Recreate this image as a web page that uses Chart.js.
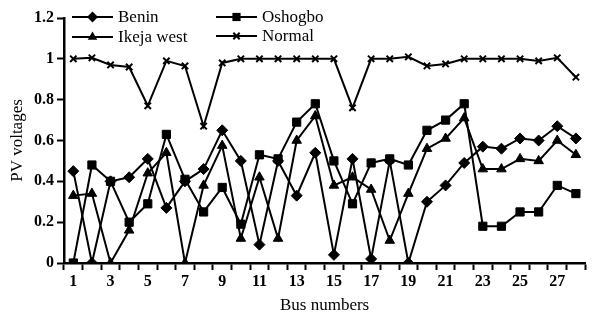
<!DOCTYPE html>
<html>
<head>
<meta charset="utf-8">
<script src="https://cdn.jsdelivr.net/npm/chart.js@4/dist/chart.umd.min.js"></script>
<style>
    html, body { margin: 0; padding: 0; background: #fff; }
    #wrap { width: 592px; height: 320px; }
</style>
</head>
<body>
<div id="wrap"><canvas id="chart" width="592" height="320"></canvas></div>
<script>
// bus numbers on the x axis
let buses = ['1', '2', '3', '4', '5', '6', '7', '8', '9', '10', '11', '12', '13', '14',
    '15', '16', '17', '18', '19', '20', '21', '22', '23', '24', '25', '26', '27', '28'];

// PV voltages
let benin = [0.45, 0.00, 0.40, 0.42, 0.51, 0.27, 0.40, 0.46, 0.65, 0.50, 0.09, 0.50, 0.33, 0.54,
    0.04, 0.51, 0.02, 0.50, 0.00, 0.30, 0.38, 0.49, 0.57, 0.56, 0.61, 0.60, 0.67, 0.61];
let oshogbo = [0.00, 0.48, 0.40, 0.20, 0.29, 0.63, 0.41, 0.25, 0.37, 0.19, 0.53, 0.51, 0.69, 0.78,
    0.50, 0.29, 0.49, 0.51, 0.48, 0.65, 0.70, 0.78, 0.18, 0.18, 0.25, 0.25, 0.38, 0.34];
let ikejaWest = [0.33, 0.34, 0.00, 0.16, 0.44, 0.54, 0.00, 0.38, 0.575, 0.12, 0.42, 0.12, 0.60, 0.72,
    0.38, 0.42, 0.36, 0.11, 0.34, 0.56, 0.61, 0.71, 0.46, 0.46, 0.51, 0.50, 0.60, 0.53];
let normal = [1.00, 1.005, 0.97, 0.96, 0.77, 0.99, 0.965, 0.67, 0.98, 1.00, 1.00, 1.00, 1.00, 1.00,
    1.00, 0.76, 1.00, 1.00, 1.01, 0.965, 0.975, 1.00, 1.00, 1.00, 1.00, 0.99, 1.005, 0.91];

let yTicks = [0, 0.2, 0.4, 0.6, 0.8, 1, 1.2];

const serif = '"Liberation Serif", "Times New Roman", serif';

let series = [
    { label: 'Benin', data: benin, style: 'rectRot', radius: 5.5 },
    { label: 'Oshogbo', data: oshogbo, style: 'rect', radius: 5.8 },
    { label: 'Ikeja west', data: ikejaWest, style: 'triangle', radius: 5.5 },
    { label: 'Normal', data: normal, style: 'crossRot', radius: 4.5 }
];

// legend in two columns, drawn inside the plot like the original figure
let legendSpots = {
    'Benin': [72, 17],
    'Ikeja west': [72, 37],
    'Oshogbo': [216, 17],
    'Normal': [216, 36]
};

function drawMarker(ctx, style, r, x, y) {
    ctx.beginPath();
    switch (style) {
        case 'rectRot':
            ctx.moveTo(x, y - r);
            ctx.lineTo(x + r, y);
            ctx.lineTo(x, y + r);
            ctx.lineTo(x - r, y);
            ctx.closePath();
            ctx.fill();
            break;
        case 'rect':
            let s = r * Math.SQRT1_2;
            ctx.rect(x - s, y - s, 2 * s, 2 * s);
            ctx.fill();
            break;
        case 'triangle':
            ctx.moveTo(x, y - r);
            ctx.lineTo(x + r * 0.87, y + r * 0.5);
            ctx.lineTo(x - r * 0.87, y + r * 0.5);
            ctx.closePath();
            ctx.fill();
            break;
        case 'crossRot':
            let c = r * Math.SQRT1_2;
            ctx.moveTo(x - c, y - c);
            ctx.lineTo(x + c, y + c);
            ctx.moveTo(x + c, y - c);
            ctx.lineTo(x - c, y + c);
            ctx.stroke();
            break;
    }
}

let pairLegend = {
    id: 'pairLegend',
    afterDraw(chart) {
        let ctx = chart.ctx;
        ctx.save();
        ctx.fillStyle = '#000';
        ctx.strokeStyle = '#000';
        ctx.font = '17px ' + serif;
        ctx.textBaseline = 'middle';
        series.forEach(s => {
            let [x, y] = legendSpots[s.label];
            ctx.lineWidth = 2;
            ctx.beginPath();
            ctx.moveTo(x, y);
            ctx.lineTo(x + 41, y);
            ctx.stroke();
            drawMarker(ctx, s.style, s.radius, x + 20.5, y);
            ctx.fillText(s.label, x + 46, y + 1);
        });
        ctx.restore();
    }
};

new Chart(document.getElementById('chart').getContext('2d'), {
    type: 'line',
    data: {
        labels: buses,
        datasets: series.map(s => ({
            label: s.label,
            data: s.data,
            borderColor: '#000',
            backgroundColor: '#000',
            borderWidth: 2,
            pointStyle: s.style,
            pointRadius: s.radius,
            pointBorderWidth: s.style === 'crossRot' ? 2 : 1,
            pointBorderColor: '#000',
            pointBackgroundColor: '#000',
            tension: 0
        }))
    },
    options: {
        responsive: false,
        devicePixelRatio: 1,
        animation: false,
        layout: {
            padding: { top: 18, right: 6, left: 0, bottom: 0 }
        },
        plugins: {
            legend: { display: false },
            tooltip: { enabled: false }
        },
        scales: {
            x: {
                type: 'category',
                offset: true,
                afterFit: scale => { scale.height = 57; },
                grid: {
                    offset: true,
                    drawOnChartArea: false,
                    drawTicks: true,
                    tickLength: 7,
                    tickWidth: 2,
                    tickColor: '#000'
                },
                border: { color: '#000', width: 2.5 },
                ticks: {
                    autoSkip: false,
                    maxRotation: 0,
                    color: '#000',
                    padding: 2,
                    font: { family: serif, size: 16, weight: 'bold' },
                    callback: (value, index) => index % 2 === 0 ? buses[index] : ''
                },
                title: {
                    display: true,
                    text: 'Bus numbers',
                    color: '#000',
                    font: { family: serif, size: 17 },
                    padding: { top: 0, bottom: 4 }
                }
            },
            y: {
                min: 0,
                max: 1.2,
                afterFit: scale => { scale.width = 64; },
                afterBuildTicks: scale => {
                    scale.ticks = yTicks.map(v => ({ value: v }));
                },
                grid: {
                    drawOnChartArea: false,
                    drawTicks: true,
                    tickLength: 7,
                    tickWidth: 2,
                    tickColor: '#000'
                },
                border: { color: '#000', width: 2.5 },
                ticks: {
                    color: '#000',
                    padding: 3,
                    font: { family: serif, size: 16, weight: 'bold' },
                    callback: value => String(value)
                },
                title: {
                    display: true,
                    text: 'PV voltages',
                    color: '#000',
                    font: { family: serif, size: 17 },
                    padding: { top: 7, bottom: 0 }
                }
            }
        }
    },
    plugins: [pairLegend]
});
</script>
</body>
</html>
